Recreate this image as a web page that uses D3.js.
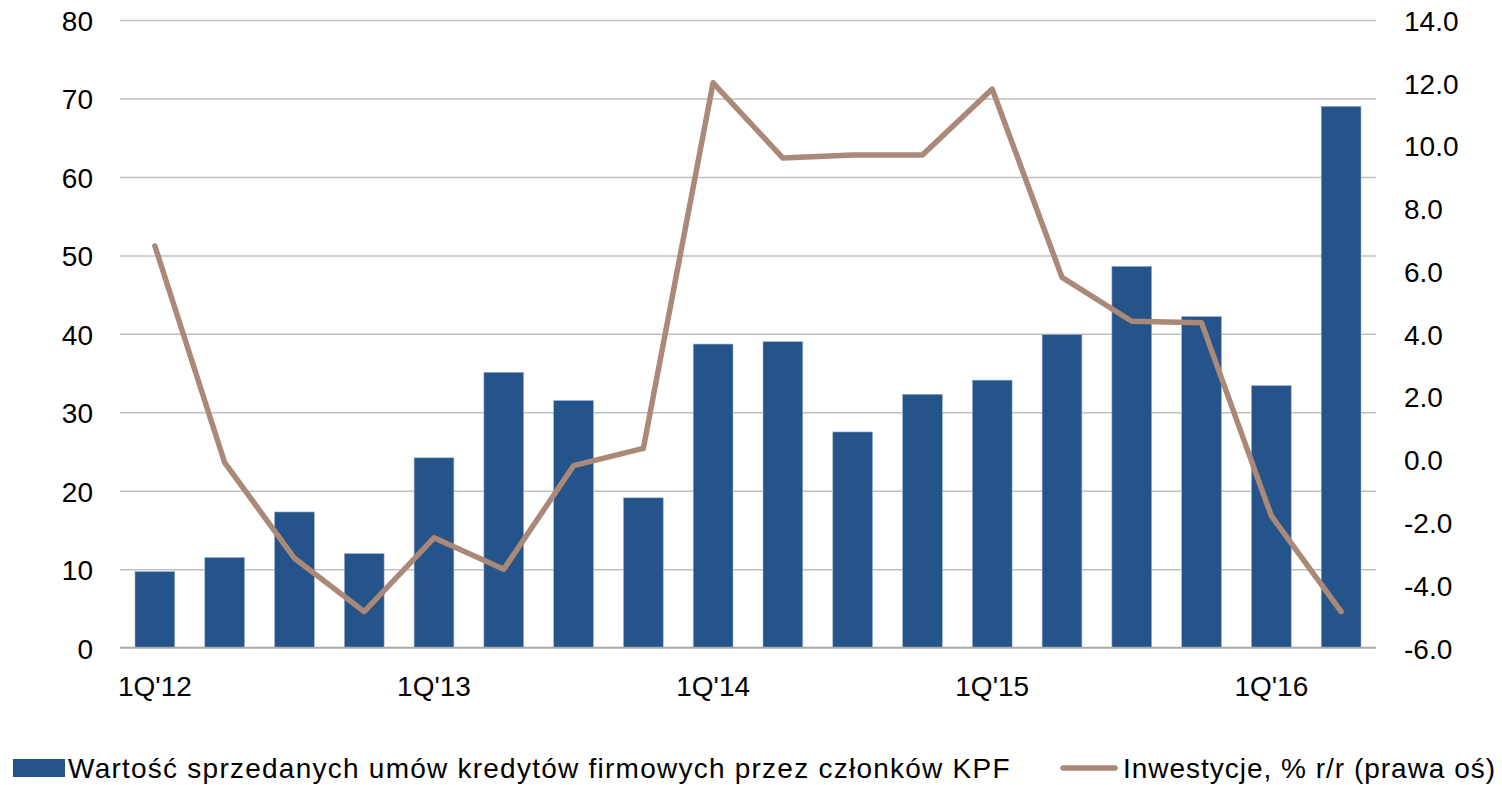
<!DOCTYPE html>
<html>
<head>
<meta charset="utf-8">
<script src="https://cdn.jsdelivr.net/npm/d3@7"></script>
<style>
  html, body { margin: 0; padding: 0; background: #fff; }
  svg { display: block; font-family: "Liberation Sans", Arial, sans-serif; }
</style>
</head>
<body>
<div class="chart"></div>
<script>
// quarters on the x axis
const quarters = ["1Q'12","2Q'12","3Q'12","4Q'12","1Q'13","2Q'13","3Q'13","4Q'13",
                  "1Q'14","2Q'14","3Q'14","4Q'14","1Q'15","2Q'15","3Q'15","4Q'15",
                  "1Q'16","2Q'16"];
const shownLabels = ["1Q'12","1Q'13","1Q'14","1Q'15","1Q'16"];

// bars: Wartość sprzedanych umów kredytów firmowych (left axis)
const kredyty = [9.7, 11.5, 17.3, 12.0, 24.2, 35.1, 31.5, 19.1, 38.7,
                 39.0, 27.5, 32.3, 34.1, 39.9, 48.6, 42.2, 33.4, 69.0];
// line: Inwestycje % r/r (right axis)
const inwestycje = [6.8, -0.1, -3.15, -4.85, -2.5, -3.5, -0.2, 0.35, 12.0,
                    9.6, 9.7, 9.7, 11.8, 5.8, 4.4, 4.35, -1.8, -4.85];

const leftTicks = [0, 10, 20, 30, 40, 50, 60, 70, 80];
const rightTicks = [-6, -4, -2, 0, 2, 4, 6, 8, 10, 12, 14];

const legendBar = "Wartość sprzedanych  umów kredytów firmowych przez członków KPF";
const legendLine = "Inwestycje,  % r/r (prawa oś)";

const W = 1502, H = 785;
const plotLeft = 120, plotRight = 1376, plotTop = 20, plotBottom = 647.7;
const barColor = '#24548a', lineColor = '#aa8978';

const svg = d3.select('.chart').append('svg')
    .attr('width', W)
    .attr('height', H);

const x = d3.scaleBand()
    .domain(quarters)
    .range([plotLeft, plotRight])
    .paddingInner(0.43)
    .paddingOuter(0.215);

const yL = d3.scaleLinear().domain([0, 80]).range([plotBottom, plotTop]);
const yR = d3.scaleLinear().domain([-6, 14]).range([plotBottom, plotTop]);

// gridlines
const grid = svg.append('g')
    .attr('transform', 'translate(' + plotLeft + ',0)')
    .call(d3.axisLeft(yL).tickValues(leftTicks.slice(1)).tickSize(-(plotRight - plotLeft)).tickFormat(''));
grid.select('.domain').remove();
grid.selectAll('line').attr('stroke', '#c0c0c0').attr('stroke-width', 1.5);

// bars
svg.append('g').selectAll('rect')
    .data(kredyty)
    .enter()
    .append('rect')
        .attr('x', function(d, i){ return x(quarters[i]); })
        .attr('y', function(d){ return yL(d); })
        .attr('width', x.bandwidth())
        .attr('height', function(d){ return yL(0) - yL(d); })
        .attr('fill', barColor)
        .attr('stroke', '#9fb3cc')
        .attr('stroke-width', 0.6);

// zero axis line
svg.append('line')
    .attr('x1', plotLeft).attr('x2', plotRight)
    .attr('y1', yL(0)).attr('y2', yL(0))
    .attr('stroke', '#a9a9a9')
    .attr('stroke-width', 2);

// line series
svg.append('path')
    .datum(inwestycje)
    .attr('fill', 'none')
    .attr('stroke', lineColor)
    .attr('stroke-width', 5.5)
    .attr('stroke-linejoin', 'round')
    .attr('stroke-linecap', 'round')
    .attr('d', d3.line()
        .x(function(d, i){ return x(quarters[i]) + x.bandwidth() / 2; })
        .y(function(d){ return yR(d); }));

// left axis labels
const axL = svg.append('g')
    .attr('transform', 'translate(93,0)')
    .call(d3.axisLeft(yL).tickValues(leftTicks).tickSize(0).tickPadding(0).tickFormat(d3.format('d')));
axL.select('.domain').remove();

// right axis labels
const axR = svg.append('g')
    .attr('transform', 'translate(1404,0)')
    .call(d3.axisRight(yR).tickValues(rightTicks).tickSize(0).tickPadding(0)
        .tickFormat(function(d){ return d.toFixed(1); }));
axR.select('.domain').remove();

// bottom labels
const axB = svg.append('g')
    .attr('transform', 'translate(0,' + 672 + ')')
    .call(d3.axisBottom(x).tickValues(shownLabels).tickSize(0).tickPadding(0));
axB.select('.domain').remove();

svg.selectAll('.tick text')
    .attr('font-family', '"Liberation Sans", Arial, sans-serif')
    .attr('font-size', 28)
    .attr('fill', '#000');
axL.selectAll('text').attr('dy', '0.37em');
axR.selectAll('text').attr('dy', '0.37em');
axB.selectAll('text').attr('dy', '0.85em');

// legend
const lg = svg.append('g').attr('font-size', 28).attr('fill', '#000');
lg.append('rect')
    .attr('x', 13).attr('y', 759)
    .attr('width', 52).attr('height', 18)
    .attr('fill', barColor);
const t1 = lg.append('text').attr('x', 68).attr('y', 778).text(legendBar);
lg.append('line')
    .attr('x1', 1063).attr('x2', 1115)
    .attr('y1', 768).attr('y2', 768)
    .attr('stroke', lineColor)
    .attr('stroke-width', 5.5)
    .attr('stroke-linecap', 'round');
const t2 = lg.append('text').attr('x', 1123).attr('y', 778).text(legendLine);

// spread letters so the legend texts span like in the original
function fitWidth(t, target) {
    const natural = t.node().getComputedTextLength();
    const n = t.text().length;
    t.attr('letter-spacing', (target - natural) / n);
}
fitWidth(t1, 944);
fitWidth(t2, 374);
</script>
</body>
</html>
